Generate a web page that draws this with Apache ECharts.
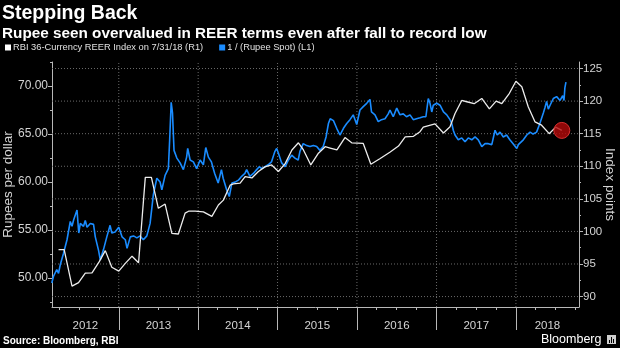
<!DOCTYPE html>
<html>
<head>
<meta charset="utf-8">
<script src="https://cdn.jsdelivr.net/npm/echarts@6/dist/echarts.min.js"></script>
<style>
  html, body { margin: 0; padding: 0; background: #000; }
  #chart { width: 620px; height: 348px; }
</style>
</head>
<body>
<div id="chart"></div>
<script>
// ---------- DATA ----------
var chartTitle = 'Stepping Back';
var chartSubtitle = 'Rupee seen overvalued in REER terms even after fall to record low';
var sourceText = 'Source: Bloomberg, RBI';
var reerName = 'RBI 36-Currency REER Index on 7/31/18 (R1)';
var rupeeName = '1 / (Rupee Spot) (L1)';
var leftAxisName = 'Rupees per dollar';
var rightAxisName = 'Index points';

var xMin = '2012-02-29';
var xMax = '2018-10-18';
var years = [2012, 2013, 2014, 2015, 2016, 2017, 2018];

var leftTicks = [50, 55, 60, 65, 70];
var leftMinorTicks = [47.5, 52.5, 57.5, 62.5, 67.5, 72.5];
var leftMin = 47.0, leftMax = 72.5;
var rightTicks = [90, 95, 100, 105, 110, 115, 120, 125];
var rightMinorTicks = [92.5, 97.5, 102.5, 107.5, 112.5, 117.5, 122.5];
var rightMin = 88.4, rightMax = 126.0;

// USD/INR spot (left axis)
var rupeeSpot = [
  ['2012-02-28',49.5],['2012-03-07',50.2],['2012-03-22',50.9],['2012-03-30',50.5],['2012-04-07',51.4],
  ['2012-04-22',52.6],['2012-05-08',54.0],['2012-05-23',55.9],['2012-05-31',55.4],['2012-06-08',56.1],
  ['2012-06-23',57.1],['2012-07-01',54.7],['2012-07-08',55.7],['2012-07-23',55.4],['2012-07-31',56.0],
  ['2012-08-08',55.3],['2012-08-23',55.7],['2012-09-07',55.6],['2012-09-15',54.3],['2012-09-30',52.9],
  ['2012-10-08',51.9],['2012-10-23',53.0],['2012-11-07',54.3],['2012-11-22',55.5],['2012-11-30',54.7],
  ['2012-12-15',54.8],['2013-01-01',55.3],['2013-01-16',54.3],['2013-01-31',54.0],['2013-02-08',53.1],
  ['2013-02-23',54.3],['2013-03-10',54.4],['2013-03-25',54.2],['2013-04-09',54.4],['2013-04-24',54.0],
  ['2013-05-10',54.4],['2013-05-25',55.7],['2013-06-09',58.7],['2013-06-25',60.4],['2013-07-10',60.0],
  ['2013-07-18',59.2],['2013-08-02',60.7],['2013-08-17',61.4],['2013-08-23',64.4],['2013-08-30',68.3],
  ['2013-09-05',67.2],['2013-09-12',63.3],['2013-09-25',62.5],['2013-10-10',62.0],['2013-10-25',61.3],
  ['2013-11-09',62.6],['2013-11-14',63.5],['2013-11-25',62.3],['2013-12-10',62.1],['2013-12-25',61.4],
  ['2014-01-10',62.3],['2014-01-25',61.8],['2014-02-05',63.6],['2014-02-17',62.6],['2014-03-03',62.1],
  ['2014-03-18',60.9],['2014-04-03',59.9],['2014-04-18',61.3],['2014-04-26',60.4],['2014-05-12',59.2],
  ['2014-05-24',58.5],['2014-06-05',59.9],['2014-06-20',60.0],['2014-07-05',60.2],['2014-07-20',60.6],
  ['2014-08-04',60.9],['2014-08-12',61.3],['2014-08-27',60.6],['2014-09-12',60.9],['2014-09-27',61.3],
  ['2014-10-09',61.6],['2014-10-20',61.4],['2014-11-04',61.6],['2014-11-19',61.8],['2014-12-04',62.1],
  ['2014-12-20',63.2],['2014-12-28',63.5],['2015-01-05',63.0],['2015-01-20',62.0],['2015-02-05',61.6],
  ['2015-02-20',62.3],['2015-03-07',62.8],['2015-03-22',62.5],['2015-04-06',62.3],['2015-04-14',63.2],
  ['2015-04-29',64.0],['2015-05-15',63.8],['2015-05-30',63.7],['2015-06-15',63.8],['2015-06-30',63.7],
  ['2015-07-15',63.3],['2015-07-30',63.7],['2015-08-12',64.7],['2015-08-23',66.1],['2015-08-31',66.6],
  ['2015-09-15',66.4],['2015-09-30',65.6],['2015-10-15',64.9],['2015-10-31',65.6],['2015-11-15',66.1],
  ['2015-11-30',66.5],['2015-12-15',67.0],['2015-12-31',66.0],['2016-01-15',67.5],['2016-01-30',67.85],
  ['2016-02-15',68.2],['2016-03-01',68.6],['2016-03-08',67.3],['2016-03-24',67.0],['2016-04-08',66.3],
  ['2016-04-23',66.5],['2016-05-09',66.6],['2016-05-24',67.1],['2016-06-01',67.5],['2016-06-16',66.8],
  ['2016-07-02',67.7],['2016-07-17',67.0],['2016-08-01',67.1],['2016-08-16',66.8],['2016-09-01',67.0],
  ['2016-09-16',66.5],['2016-10-01',66.6],['2016-10-17',66.7],['2016-11-01',66.8],['2016-11-13',66.8],
  ['2016-11-24',68.7],['2016-12-02',68.2],['2016-12-10',67.3],['2016-12-17',68.0],['2017-01-02',68.2],
  ['2017-01-17',68.0],['2017-01-25',67.8],['2017-02-02',67.3],['2017-02-17',67.0],['2017-03-04',66.5],
  ['2017-03-12',66.1],['2017-03-19',65.4],['2017-03-27',64.9],['2017-04-11',64.4],['2017-04-27',64.6],
  ['2017-05-12',64.2],['2017-05-27',64.6],['2017-06-12',64.4],['2017-06-27',64.7],['2017-07-12',64.4],
  ['2017-07-28',63.7],['2017-08-12',64.0],['2017-08-27',64.0],['2017-09-12',63.9],['2017-09-27',65.4],
  ['2017-10-07',64.9],['2017-10-20',65.2],['2017-11-04',64.7],['2017-11-19',64.9],['2017-12-04',64.4],
  ['2017-12-19',64.0],['2018-01-05',63.5],['2018-01-12',63.9],['2018-01-20',63.7],['2018-02-04',64.4],
  ['2018-02-20',64.9],['2018-03-07',65.2],['2018-03-21',65.0],['2018-04-06',65.2],['2018-04-21',66.1],
  ['2018-05-07',67.2],['2018-05-15',67.8],['2018-05-22',68.4],['2018-05-30',67.6],['2018-06-07',68.0],
  ['2018-06-22',68.7],['2018-07-07',68.9],['2018-07-23',68.5],['2018-08-04',69.0],['2018-08-10',68.5],
  ['2018-08-14',69.8],['2018-08-19',70.4]
];

// RBI 36-currency REER (right axis)
var reerIndex = [
  ['2012-03-30',97.2],['2012-04-25',97.2],['2012-05-31',91.6],['2012-06-30',92.15],['2012-07-31',93.6],
  ['2012-08-31',93.65],['2012-10-04',95.4],['2012-10-31',97.05],['2012-11-30',94.5],['2013-01-01',93.9],
  ['2013-01-31',95.1],['2013-03-03',96.2],['2013-04-02',95.2],['2013-05-03',108.3],['2013-05-31',108.3],
  ['2013-07-02',103.55],['2013-08-02',104.2],['2013-09-02',99.7],['2013-10-02',99.6],['2013-11-02',102.8],
  ['2013-11-18',103.1],['2013-12-18',103.1],['2014-01-25',103.0],['2014-03-05',102.3],['2014-04-04',104.05],
  ['2014-04-27',104.8],['2014-05-28',107.1],['2014-06-12',107.3],['2014-07-13',107.4],['2014-08-05',108.4],
  ['2014-09-05',108.2],['2014-10-05',109.2],['2014-11-04',109.9],['2014-12-05',110.2],['2015-01-05',109.2],
  ['2015-02-05',110.4],['2015-03-08',112.5],['2015-04-07',113.6],['2015-04-30',112.5],['2015-06-03',110.2],
  ['2015-07-08',112.0],['2015-08-08',113.0],['2015-08-31',112.8],['2015-10-01',112.5],['2015-11-07',114.4],
  ['2015-12-08',113.6],['2016-01-30',113.5],['2016-03-05',110.3],['2016-04-17',111.2],['2016-06-02',112.2],
  ['2016-07-10',113.1],['2016-08-10',114.5],['2016-09-17',114.6],['2016-10-17',115.3],['2016-11-01',116.0],
  ['2016-12-25',116.5],['2017-02-02',115.1],['2017-03-04',116.05],['2017-03-27',118.1],['2017-04-27',120.1],
  ['2017-05-20',119.9],['2017-06-23',119.6],['2017-07-28',120.4],['2017-09-01',118.8],['2017-10-02',120.0],
  ['2017-10-28',119.6],['2017-12-02',121.2],['2018-01-01',123.05],['2018-01-28',122.2],['2018-02-27',119.1],
  ['2018-03-30',116.8],['2018-04-29',116.3],['2018-06-03',115.0],['2018-07-03',116.0],['2018-07-31',115.5]
];

// ---------- DERIVED ----------
function ts(s) { var p = s.split('-'); return new Date(+p[0], +p[1] - 1, +p[2]).getTime(); }
function toPoints(arr) { return arr.map(function (d) { return [ts(d[0]), d[1]]; }); }
var xMinT = ts(xMin), xMaxT = ts(xMax);
var yearStarts = years.slice(1).map(function (y) { return ts(y + '-01-01'); });
var yearMids = years.map(function (y) {
  var a = Math.max(ts(y + '-01-01'), xMinT);
  var b = Math.min(ts((y + 1) + '-01-01'), xMaxT);
  return (a + b) / 2;
});
var quarterTicks = [];
years.forEach(function (y) {
  ['-04-01', '-07-01', '-10-01'].forEach(function (m) {
    var t = ts(y + m);
    if (t > xMinT && t < xMaxT) quarterTicks.push(t);
  });
});
var rupeePts = toPoints(rupeeSpot);
var reerPts = toPoints(reerIndex);
var reerLast = reerPts[reerPts.length - 1];

// grid-line helper series: each gridline is a 2-point line between axis extents
var hGrid = rightTicks.map(function (v) { return [[xMinT, v], [xMaxT, v]]; });
var vGrid = yearStarts.map(function (t) { return [[t, rightMin], [t, rightMax]]; });

var FONT = '"Liberation Sans", Arial, sans-serif';
var AXIS_COLOR = '#b8b8b8';
var LABEL_COLOR = '#d4d4d4';
var GRID_COLOR = '#6a6a6a';

var chart = echarts.init(document.getElementById('chart'), null, { renderer: 'canvas' });

var gridSeries = hGrid.concat(vGrid).map(function (pts, i) {
  return {
    name: 'grid' + i, type: 'line', xAxisIndex: 0, yAxisIndex: 1, data: pts, z: 1,
    showSymbol: false, symbol: 'none', silent: true, legendHoverLink: false,
    lineStyle: { type: [1, 2], color: GRID_COLOR, width: 1 }
  };
});

var option = {
  backgroundColor: '#000',
  animation: false,
  textStyle: { fontFamily: FONT },
  title: [
    { text: chartTitle, left: 2, top: 4, padding: 0, textStyle: { color: '#fff', fontSize: 19.5, fontWeight: 'bold', fontFamily: FONT } },
    { text: chartSubtitle, left: 2, top: 26, padding: 0, textStyle: { color: '#fff', fontSize: 15.3, fontWeight: 'bold', fontFamily: FONT } },
    { text: sourceText, left: 3, top: 336, padding: 0, textStyle: { color: '#fff', fontSize: 10, fontWeight: 'bold', fontFamily: FONT } },
    { text: 'Bloomberg', left: 541, top: 333, padding: 0, textStyle: { color: '#fff', fontSize: 12.5, fontWeight: 'normal', fontFamily: FONT } }
  ],
  legend: {
    left: 5, top: 43, padding: 0, itemWidth: 6, itemHeight: 6, itemGap: 16, icon: 'rect',
    textStyle: { color: '#e0e0e0', fontSize: 9.3, fontFamily: FONT, padding: [0, 0, 0, -3] },
    data: [reerName, rupeeName]
  },
  grid: { left: 52, right: 41, top: 62, bottom: 41, containLabel: false, outerBoundsMode: 'none' },
  xAxis: [
    {
      type: 'value', min: xMinT, max: xMaxT, scale: true,
      axisLine: { show: true, lineStyle: { color: AXIS_COLOR, width: 1 } },
      axisTick: { show: true, customValues: yearStarts, length: 23, lineStyle: { color: AXIS_COLOR } },
      axisLabel: {
        show: true, customValues: yearMids, color: LABEL_COLOR, fontSize: 11.5, margin: 13, fontFamily: FONT,
        formatter: function (v) { return String(new Date(v).getFullYear()); }
      },
      splitLine: { show: false }
    },
    {
      type: 'value', min: xMinT, max: xMaxT, scale: true, position: 'bottom', offset: 0,
      axisLine: { show: false },
      axisTick: { show: true, customValues: quarterTicks, length: 3, lineStyle: { color: AXIS_COLOR } },
      axisLabel: { show: false },
      splitLine: { show: false }
    }
  ],
  yAxis: [
    {
      type: 'value', position: 'left', min: leftMin, max: leftMax,
      name: leftAxisName, nameLocation: 'middle', nameGap: 37, nameRotate: 90, nameMoveOverlap: false,
      nameTextStyle: { color: LABEL_COLOR, fontSize: 13.5, fontFamily: FONT },
      axisLine: { show: true, lineStyle: { color: AXIS_COLOR } },
      axisTick: { show: true, customValues: leftTicks, length: 4, lineStyle: { color: AXIS_COLOR } },
      axisLabel: {
        customValues: leftTicks, color: LABEL_COLOR, fontSize: 12, margin: 4, fontFamily: FONT,
        formatter: function (v) { return Number(v).toFixed(2); }
      },
      splitLine: { show: false }
    },
    {
      type: 'value', position: 'right', min: rightMin, max: rightMax,
      name: rightAxisName, nameLocation: 'middle', nameGap: 24, nameRotate: -90, nameMoveOverlap: false,
      nameTextStyle: { color: LABEL_COLOR, fontSize: 13.5, fontFamily: FONT },
      axisLine: { show: true, lineStyle: { color: AXIS_COLOR } },
      axisTick: { show: true, customValues: rightTicks, length: 4, lineStyle: { color: AXIS_COLOR } },
      axisLabel: { customValues: rightTicks, color: LABEL_COLOR, fontSize: 11.5, margin: 4, fontFamily: FONT },
      splitLine: { show: false }
    },
    {
      type: 'value', position: 'left', min: leftMin, max: leftMax, offset: 0,
      axisLine: { show: false },
      axisTick: { show: true, customValues: leftMinorTicks, length: 2, lineStyle: { color: AXIS_COLOR } },
      axisLabel: { show: false }, splitLine: { show: false }
    },
    {
      type: 'value', position: 'right', min: rightMin, max: rightMax, offset: 0,
      axisLine: { show: false },
      axisTick: { show: true, customValues: rightMinorTicks, length: 2, lineStyle: { color: AXIS_COLOR } },
      axisLabel: { show: false }, splitLine: { show: false }
    }
  ],
  series: gridSeries.concat([
    {
      name: reerName, type: 'line', xAxisIndex: 0, yAxisIndex: 1, data: reerPts, z: 3,
      showSymbol: false, symbol: 'none',
      lineStyle: { color: '#ececec', width: 1.3 }, itemStyle: { color: '#ffffff' },
      markPoint: {
        silent: true, symbol: 'circle', symbolSize: 16, label: { show: false },
        itemStyle: { color: 'rgba(180,10,10,0.8)', borderColor: '#d83030', borderWidth: 1 },
        data: [{ coord: reerLast }]
      }
    },
    {
      name: rupeeName, type: 'line', xAxisIndex: 0, yAxisIndex: 0, data: rupeePts, z: 2,
      showSymbol: false, symbol: 'none',
      lineStyle: { color: '#1a8cff', width: 1.6 }, itemStyle: { color: '#1a8cff' }
    }
  ]),
  graphic: [
    { type: 'rect', left: 607, top: 335, shape: { width: 9, height: 9 }, style: { fill: '#cfcfcf' } },
    { type: 'rect', left: 609, top: 340, shape: { width: 1, height: 3 }, style: { fill: '#000' } },
    { type: 'rect', left: 611, top: 337, shape: { width: 1, height: 6 }, style: { fill: '#000' } },
    { type: 'rect', left: 613, top: 339, shape: { width: 1, height: 4 }, style: { fill: '#000' } }
  ]
};
chart.setOption(option);
</script>
</body>
</html>
